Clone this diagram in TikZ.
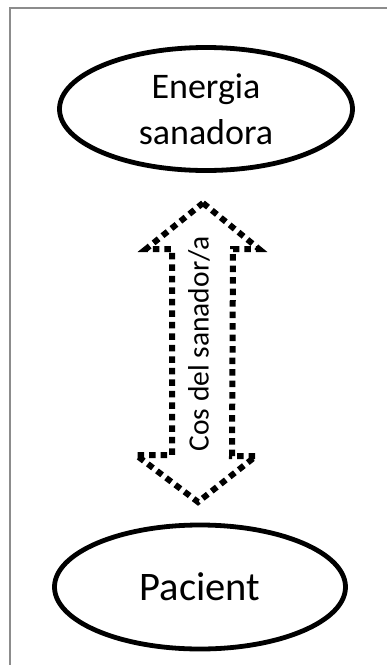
\documentclass[tikz,border=0pt]{standalone}
\usepackage{fontspec}
\setmainfont{Carlito}
\usetikzlibrary{shapes.geometric}
\definecolor{framegray}{HTML}{8C8C8C}
\tikzset{
  bubble/.style={ellipse, draw=black, line width=4.8pt, inner sep=0pt, align=center},
  dotline/.style={draw=black, line width=6pt, dash pattern=on 6.5pt off 5pt, line join=miter},
  framing/.style={draw=framegray, line width=1.8pt}
}
\begin{document}
\begin{tikzpicture}[x=1pt,y=-1pt]
\useasboundingbox (0,0) rectangle (387,665);
\draw[framing] (10,665) -- (10,8) -- (387,8);
\node[bubble, minimum width=293pt, minimum height=123pt,
      font=\fontsize{36}{46}\selectfont] (energia) at (206,109) {Energia\\sanadora};
\node[bubble, minimum width=291pt, minimum height=124pt,
      font=\fontsize{40.5}{48}\selectfont] (pacient) at (200,587) {Pacient};
\coordinate (ttip) at (203,203);
\coordinate (btip) at (198,502);
\path[dotline] (ttip) -- (259,249) -- (233,249) -- (232,456) -- (256,456)
   -- (btip) -- (136,455) -- (172,455) -- (172,249) -- (146,249) -- cycle;
\node[rotate=90, inner sep=0pt, font=\fontsize{29.5}{34}\selectfont] (cos) at (199,344) {Cos del sanador/a};
\end{tikzpicture}
\end{document}
